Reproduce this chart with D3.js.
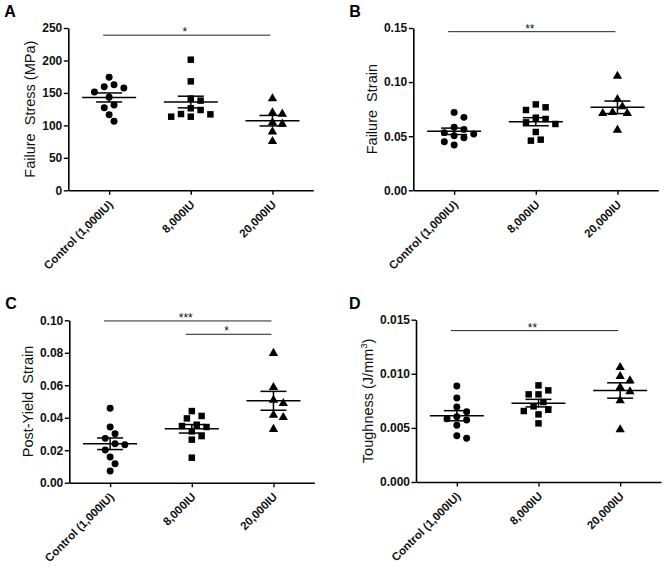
<!DOCTYPE html>
<html><head><meta charset="utf-8">
<script src="https://cdn.jsdelivr.net/npm/d3@7"></script>
<style>
body{margin:0;background:#fff}
svg{display:block;font-family:Arial,"Liberation Sans",Helvetica,sans-serif}
</style>
</head><body>
<svg id="chart" width="664" height="568"></svg>
<script>
// ---------- data ----------
const categories = ["Control (1,000IU)", "8,000IU", "20,000IU"];

const stressControl = [162.7,157.6,159.6,174.0,151.4,143.2,131.4,127.3,116.5,106.3];
const stress8000    = [201.2,167.8,141.2,138.1,123.7,126.3,117.0,113.4,113.4,117.5];
const stress20000   = [141.2,119.6,117.5,104.2,102.1,90.3,75.5];

const strainControl = [0.0720,0.0674,0.0582,0.0563,0.0533,0.0520,0.0505,0.0486,0.0449,0.0419];
const strain8000    = [0.0794,0.0767,0.0742,0.0671,0.0659,0.0628,0.0613,0.0539,0.0468,0.0459];
const strain20000   = [0.1056,0.0841,0.0773,0.0711,0.0711,0.0720,0.0557];

const postYieldControl = [0.0458,0.0343,0.0302,0.0273,0.0240,0.0234,0.0201,0.0158,0.0117,0.0072];
const postYield8000    = [0.0441,0.0411,0.0396,0.0357,0.0343,0.0349,0.0316,0.0287,0.0265,0.0154];
const postYield20000   = [0.0797,0.0587,0.0509,0.0489,0.0417,0.0402,0.0329];

const toughControl = [0.00887,0.00776,0.00693,0.00650,0.00604,0.00573,0.00585,0.00524,0.00428,0.00404];
const tough8000    = [0.00893,0.00847,0.00810,0.00810,0.00739,0.00699,0.00668,0.00656,0.00625,0.00542];
const tough20000   = [0.01060,0.00977,0.00937,0.00875,0.00835,0.00752,0.00484];

const ticksA = [0,50,100,150,200,250];
const ticksB = [0,0.05,0.10,0.15];
const ticksC = [0,0.02,0.04,0.06,0.08,0.10];
const ticksD = [0,0.005,0.010,0.015];

// significance brackets: [fromGroup, toGroup, label, value]
const sigA = [[0,2,"*",239]];
const sigB = [[0,2,"**",0.1466]];
const sigC = [[0,2,"***",0.0996],[1,2,"*",0.0914]];
const sigD = [[0,2,"**",0.01399]];

// ---------- layout ----------
const panels = [
  {letter:"A", axisX:68.3, top:28,    bottom:190.3, groups:[stressControl,stress8000,stress20000], ticks:ticksA, fmt:d3.format("d"),   label:["Failure  Stress (MPa)"], sig:sigA},
  {letter:"B", axisX:413.3,top:28,    bottom:190.3, groups:[strainControl,strain8000,strain20000], ticks:ticksB, fmt:d3.format(".2f"), label:["Failure  Strain"], sig:sigB},
  {letter:"C", axisX:69.3, top:320.3, bottom:482.7, groups:[postYieldControl,postYield8000,postYield20000], ticks:ticksC, fmt:d3.format(".2f"), label:["Post-Yield  Strain"], sig:sigC},
  {letter:"D", axisX:416,  top:319.7, bottom:482,   groups:[toughControl,tough8000,tough20000], ticks:ticksD, fmt:d3.format(".3f"), label:["Toughness (J/mm","3",")"], sig:sigD}
];
const axisLen = 245;
const symbols = [d3.symbolCircle, d3.symbolSquare, d3.symbolTriangle];
const symSizes = [38, 42, 38];

const svg = d3.select("#chart");
svg.append("rect").attr("width",664).attr("height",568).attr("fill","#fff");

function beeswarm(values, y, cx){
  const D = 8.2, step = 4.9;
  const order = values.map((v,i)=>i).sort((a,b)=>values[b]-values[a]);
  const placed = [];
  const res = new Array(values.length);
  order.forEach(i=>{
    const py = y(values[i]);
    let chosen = 0;
    for(let k=0;k<40;k++){
      const cands = k===0?[0]:[k*step,-k*step];
      let ok=null;
      for(const c of cands){
        if(placed.every(p=>Math.hypot(p[0]-c,p[1]-py)>=D)){ok=c;break;}
      }
      if(ok!==null){chosen=ok;break;}
    }
    placed.push([chosen,py]);
    res[i]=[cx+chosen,py];
  });
  return res;
}

panels.forEach(p=>{
  const g = svg.append("g");
  const y = d3.scaleLinear().domain([0, p.ticks[p.ticks.length-1]]).range([p.bottom, p.top]);
  const x = d3.scalePoint().domain(categories).range([p.axisX, p.axisX+axisLen]).padding(0.5);

  // y axis
  const ya = g.append("g").attr("transform",`translate(${p.axisX},0)`)
    .call(d3.axisLeft(y).tickValues(p.ticks).tickFormat(p.fmt).tickSize(4.5).tickSizeOuter(0).tickPadding(1.5));
  ya.select(".domain").attr("stroke","#000").attr("stroke-width",1.6);
  ya.selectAll(".tick line").attr("stroke","#000").attr("stroke-width",1.4);
  ya.selectAll(".tick text").attr("fill","#111").style("font-size","12px").style("font-weight","bold")
    .style("font-family","Arial,'Liberation Sans',sans-serif");

  // x axis
  const xa = g.append("g").attr("transform",`translate(0,${p.bottom})`)
    .call(d3.axisBottom(x).tickSize(4.5).tickSizeOuter(0));
  xa.select(".domain").attr("stroke","#000").attr("stroke-width",1.6);
  xa.selectAll(".tick line").attr("stroke","#000").attr("stroke-width",1.4);
  xa.selectAll(".tick text").attr("fill","#111").style("font-size","11.5px").style("font-weight","bold")
    .style("font-family","Arial,'Liberation Sans',sans-serif")
    .attr("x",0).attr("y",0).attr("dy",0).attr("text-anchor","end")
    .attr("transform","translate(4,15) rotate(-45)");

  // y label
  let maxW = 0;
  ya.selectAll(".tick text").each(function(){maxW=Math.max(maxW,this.getBBox().width);});
  const lx = p.axisX - 4.5 - 1.5 - maxW - 7;
  const ly = (p.top+p.bottom)/2;
  const lt = g.append("text").attr("transform",`translate(${lx},${ly}) rotate(-90)`)
    .attr("text-anchor","middle").style("font-size","14.5px").style("white-space","pre").attr("fill","#111");
  lt.append("tspan").text(p.label[0]);
  if(p.label.length>1){
    lt.append("tspan").text(p.label[1]).style("font-size","9.5px").attr("dy","-6");
    lt.append("tspan").text(p.label[2]).attr("dy","6");
  }

  // panel letter
  g.append("text").attr("x", p.axisX - 64 + (p.letter==="D"? -3:0)).attr("y", p.top-11)
    .style("font-size","16px").style("font-weight","bold").attr("fill","#000").text(p.letter);

  // significance bars
  p.sig.forEach(s=>{
    const x1 = x(categories[s[0]]) - 6, x2 = x(categories[s[1]]) - 2, yy = y(s[3]);
    g.append("line").attr("x1",x1).attr("x2",x2).attr("y1",yy).attr("y2",yy)
      .attr("stroke","#222").attr("stroke-width",1);
    g.append("text").attr("x",(x1+x2)/2-2).attr("y",yy+1).attr("text-anchor","middle")
      .style("font-size","12px").attr("fill","#111").text(s[2]);
  });

  // points + mean/SEM
  p.groups.forEach((vals,gi)=>{
    const cx = x(categories[gi]);
    const pos = beeswarm(vals, y, cx);
    g.append("g").selectAll("path").data(pos).join("path")
      .attr("transform",d=>`translate(${d[0]},${d[1]})`)
      .attr("d", d3.symbol(symbols[gi], symSizes[gi]))
      .attr("fill","#000");
    const m = d3.mean(vals), sem = d3.deviation(vals)/Math.sqrt(vals.length);
    const ln = (x1,x2,y1,y2)=>g.append("line").attr("x1",x1).attr("x2",x2).attr("y1",y1).attr("y2",y2)
      .attr("stroke","#000").attr("stroke-width",1.5);
    ln(cx-27,cx+27,y(m),y(m));
    ln(cx-13,cx+13,y(m+sem),y(m+sem));
    ln(cx-13,cx+13,y(m-sem),y(m-sem));
    ln(cx,cx,y(m+sem),y(m-sem));
  });
});
</script>
</body></html>
